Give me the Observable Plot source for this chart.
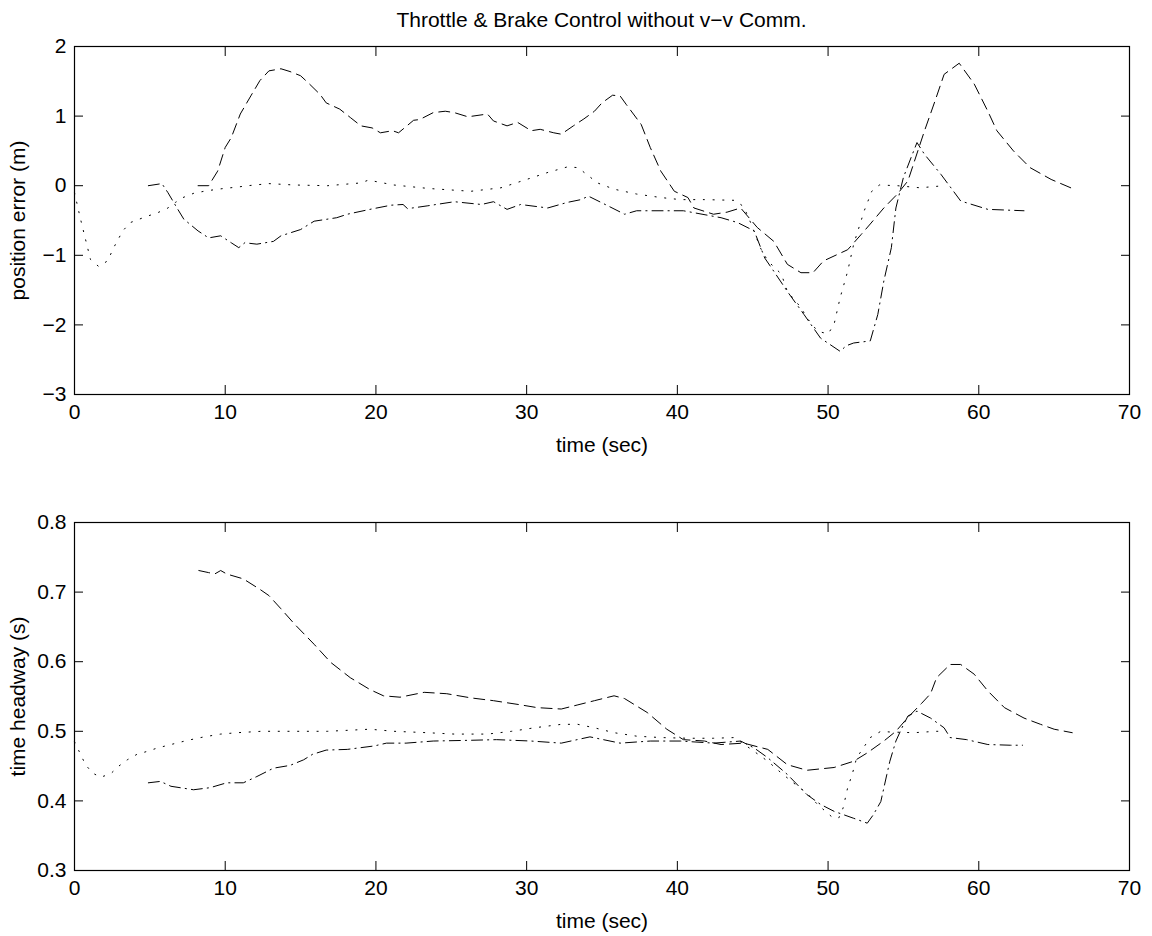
<!DOCTYPE html>
<html><head><meta charset="utf-8">
<script src="https://cdn.jsdelivr.net/npm/d3@7"></script>
<script src="https://cdn.jsdelivr.net/npm/@observablehq/plot@0.6"></script>
<style>
body{margin:0;background:#fff;}
#wrap{position:relative;width:1152px;height:936px;font-family:"Liberation Sans",Arial,sans-serif;background:#fff;}
#title{position:absolute;left:74px;width:1055px;top:8px;text-align:center;font-size:21px;line-height:24px;z-index:2;color:#000;}
#p1{position:absolute;left:0;top:0;}
#p2{position:absolute;left:0;top:476px;}
</style></head>
<body><div id="wrap"><div id="p1"></div><div id="p2"></div><div id="title">Throttle &amp; Brake Control without v−v Comm.</div></div>
<script>
const titleText = "Throttle & Brake Control without v−v Comm.";
const xLabel = "time (sec)";
const yLabelTop = "position error (m)";
const yLabelBottom = "time headway (s)";
const xTicks = [0, 10, 20, 30, 40, 50, 60, 70];
const yTicksTop = [-3, -2, -1, 0, 1, 2];
const yTicksBottom = [0.3, 0.4, 0.5, 0.6, 0.7, 0.8];

// position error (m) — [time, value]
const posErrDotted = [[0,-0.1],[0.4,-0.48],[0.73,-0.77],[1.06,-1.06],[1.6,-1.16],[2.2,-1.08],[2.6,-0.89],[3.2,-0.65],[3.7,-0.53],[4.8,-0.44],[5.5,-0.39],[6.2,-0.32],[6.7,-0.24],[7.2,-0.17],[7.9,-0.11],[8.6,-0.08],[9.2,-0.06],[9.9,-0.04],[10.8,-0.02],[11.5,0.0],[12.9,0.03],[14.6,0.01],[16.8,0.0],[19.0,0.04],[19.5,0.08],[21.2,0.01],[23.5,-0.04],[26.3,-0.08],[28.3,-0.03],[30.0,0.09],[31.4,0.19],[32.7,0.27],[33.4,0.26],[34.0,0.16],[34.7,0.04],[35.8,-0.05],[37.3,-0.12],[38.9,-0.17],[40.2,-0.2],[41.8,-0.2],[43.8,-0.21],[44.4,-0.3],[44.9,-0.55],[45.5,-0.89],[46.0,-1.08],[46.9,-1.27],[47.3,-1.52],[48.2,-1.75],[48.6,-1.9],[49.3,-2.09],[50.0,-2.13],[50.4,-1.99],[50.8,-1.61],[51.3,-1.23],[51.7,-0.84],[52.4,-0.36],[52.9,-0.08],[53.4,0.01],[54.6,0.0],[56.1,-0.03],[57.7,0.0]];
const posErrDashed = [[8.2,0.0],[8.9,0.0],[9.5,0.21],[10.0,0.55],[10.4,0.69],[11.0,1.03],[11.7,1.29],[12.3,1.51],[12.9,1.65],[13.7,1.68],[14.3,1.64],[15.0,1.58],[15.5,1.48],[16.3,1.31],[16.7,1.19],[17.6,1.1],[18.3,0.98],[19.0,0.86],[19.75,0.83],[20.3,0.76],[21.1,0.79],[21.5,0.76],[22.5,0.94],[22.9,0.95],[23.8,1.05],[24.6,1.07],[25.2,1.05],[26.1,0.99],[27.4,1.03],[27.8,0.93],[28.7,0.86],[29.4,0.91],[30.3,0.79],[30.9,0.81],[31.8,0.76],[32.3,0.74],[33.1,0.86],[33.8,0.96],[34.5,1.07],[35.0,1.19],[35.7,1.3],[36.2,1.29],[36.6,1.17],[37.6,0.88],[38.2,0.55],[38.9,0.21],[39.8,-0.08],[40.7,-0.17],[41.1,-0.32],[42.4,-0.41],[43.3,-0.38],[44.2,-0.32],[45.3,-0.6],[46.4,-0.8],[47.3,-1.13],[48.2,-1.25],[49.0,-1.25],[49.7,-1.08],[51.3,-0.92],[52.2,-0.7],[52.8,-0.55],[53.7,-0.32],[54.6,-0.12],[55.3,0.07],[56.4,0.79],[57.1,1.22],[57.7,1.6],[58.7,1.76],[59.7,1.46],[60.6,1.07],[61.2,0.79],[62.3,0.5],[63.4,0.26],[64.8,0.09],[66.1,-0.03]];
const posErrDashDot = [[4.9,0.0],[5.8,0.03],[6.2,-0.1],[6.8,-0.32],[7.25,-0.48],[8.2,-0.65],[8.9,-0.75],[9.7,-0.72],[10.4,-0.82],[10.9,-0.89],[11.3,-0.82],[12.1,-0.84],[13.2,-0.8],[13.7,-0.72],[15.0,-0.63],[15.9,-0.51],[17.4,-0.46],[18.1,-0.41],[19.6,-0.34],[21.0,-0.28],[21.8,-0.27],[22.1,-0.33],[23.4,-0.29],[25.2,-0.23],[27.0,-0.27],[27.8,-0.23],[28.7,-0.34],[29.6,-0.27],[31.4,-0.32],[32.7,-0.24],[33.6,-0.2],[34.1,-0.15],[35.4,-0.29],[36.5,-0.41],[37.3,-0.36],[40.4,-0.36],[42.9,-0.46],[44.0,-0.53],[45.1,-0.65],[45.8,-1.04],[46.4,-1.23],[47.3,-1.52],[48.4,-1.85],[49.5,-2.19],[50.8,-2.38],[51.2,-2.3],[51.7,-2.26],[52.8,-2.23],[53.3,-1.85],[53.7,-1.37],[54.2,-0.89],[54.5,-0.32],[55.0,0.12],[55.5,0.4],[55.9,0.62],[56.4,0.45],[57.5,0.16],[58.8,-0.22],[60.6,-0.34],[63.0,-0.36]];

// time headway (s) — [time, value]
const headwayDotted = [[0,0.485],[0.4,0.467],[0.73,0.452],[1.2,0.44],[1.73,0.434],[2.4,0.439],[2.94,0.45],[3.5,0.459],[4.15,0.467],[4.8,0.471],[5.5,0.476],[6.4,0.481],[7.5,0.487],[8.6,0.492],[9.7,0.496],[10.8,0.498],[12.4,0.5],[14.6,0.5],[16.8,0.5],[19.6,0.503],[21.2,0.5],[23.4,0.498],[25.2,0.496],[27.4,0.496],[29.0,0.5],[30.5,0.505],[32.3,0.51],[33.4,0.51],[34.5,0.505],[35.8,0.498],[37.3,0.493],[38.9,0.491],[40.7,0.49],[42.4,0.49],[43.8,0.491],[45.1,0.471],[46.0,0.457],[46.9,0.44],[47.7,0.426],[48.6,0.411],[49.3,0.395],[50.2,0.378],[50.7,0.375],[51.0,0.39],[51.3,0.419],[51.6,0.438],[51.9,0.462],[52.8,0.491],[53.5,0.5],[54.1,0.499],[55.7,0.498],[57.2,0.5],[57.7,0.5]];
const headwayDashed = [[8.25,0.731],[8.9,0.728],[9.3,0.726],[9.7,0.731],[10.1,0.726],[11.2,0.719],[12.3,0.704],[12.9,0.695],[13.7,0.676],[14.6,0.654],[15.9,0.625],[17.0,0.599],[18.3,0.577],[19.6,0.56],[20.5,0.551],[21.6,0.549],[23.2,0.556],[24.7,0.554],[26.3,0.548],[27.8,0.544],[29.6,0.538],[30.7,0.534],[32.3,0.532],[33.4,0.538],[34.5,0.544],[35.8,0.551],[36.5,0.547],[38.0,0.527],[39.3,0.503],[40.4,0.488],[41.8,0.486],[42.9,0.481],[44.4,0.483],[46.0,0.474],[47.3,0.452],[48.6,0.444],[50.4,0.448],[51.7,0.457],[52.6,0.469],[53.7,0.486],[54.5,0.5],[55.3,0.52],[56.2,0.54],[56.8,0.554],[57.2,0.577],[58.1,0.596],[58.8,0.596],[59.7,0.582],[60.6,0.558],[61.7,0.534],[63.0,0.519],[64.1,0.51],[65.0,0.503],[66.2,0.498]];
const headwayDashDot = [[4.9,0.426],[5.7,0.428],[6.4,0.421],[7.9,0.416],[9.0,0.419],[10.1,0.426],[11.2,0.426],[12.1,0.435],[13.2,0.447],[14.3,0.451],[15.2,0.459],[15.8,0.467],[16.7,0.473],[18.1,0.474],[19.9,0.479],[20.7,0.483],[22.0,0.483],[23.8,0.486],[26.1,0.487],[28.0,0.488],[30.3,0.486],[32.3,0.483],[34.2,0.492],[36.2,0.483],[38.2,0.486],[40.2,0.486],[42.4,0.483],[44.2,0.486],[45.1,0.476],[46.0,0.462],[47.3,0.438],[48.6,0.409],[49.5,0.395],[50.4,0.385],[51.7,0.375],[52.6,0.368],[53.0,0.38],[53.5,0.399],[53.9,0.438],[54.1,0.457],[54.5,0.486],[54.9,0.505],[55.3,0.522],[55.9,0.529],[56.8,0.519],[57.7,0.505],[58.1,0.491],[59.2,0.488],[60.6,0.481],[62.1,0.48],[62.9,0.48]];

const FONT = "'Liberation Sans', Arial, Helvetica, sans-serif";
const DOT = "1.2,8.5", DASH = "11,6", DASHDOT = "11,5,1.2,5";
const fmt = d3.format("~g");

function makePlot(dotted, dashed, dashdot, ydomain, yticks, ylabel) {
  const acc = {x: d => d[0], y: d => d[1], stroke: "#000", strokeWidth: 1, fill: "none"};
  return Plot.plot({
    width: 1152, height: 460,
    marginLeft: 74, marginRight: 23, marginTop: 46, marginBottom: 66,
    style: {fontFamily: FONT, fontSize: "21px", background: "transparent", color: "#000"},
    x: {domain: [0, 70]},
    y: {domain: ydomain},
    marks: [
      Plot.axisX(xTicks, {anchor: "bottom", tickSize: -9, tickPadding: 19, tickFormat: fmt, label: xLabel, labelAnchor: "center", labelOffset: 57, labelArrow: "none"}),
      Plot.axisX(xTicks, {anchor: "top", tickSize: -9, tickFormat: () => "", label: null}),
      Plot.axisY(yticks, {anchor: "left", tickSize: -9, tickPadding: 17, tickFormat: fmt, label: ylabel, labelAnchor: "center", labelOffset: 64, labelArrow: "none"}),
      Plot.axisY(yticks, {anchor: "right", tickSize: -9, tickFormat: () => "", label: null}),
      Plot.frame({stroke: "#000", strokeWidth: 1.2}),
      Plot.line(dotted, {...acc, strokeDasharray: DOT}),
      Plot.line(dashed, {...acc, strokeDasharray: DASH}),
      Plot.line(dashdot, {...acc, strokeDasharray: DASHDOT})
    ]
  });
}

document.getElementById("p1").append(makePlot(posErrDotted, posErrDashed, posErrDashDot, [-3, 2], yTicksTop, yLabelTop));
document.getElementById("p2").append(makePlot(headwayDotted, headwayDashed, headwayDashDot, [0.3, 0.8], yTicksBottom, yLabelBottom));
document.getElementById("title").textContent = titleText;
</script>
</body></html>
